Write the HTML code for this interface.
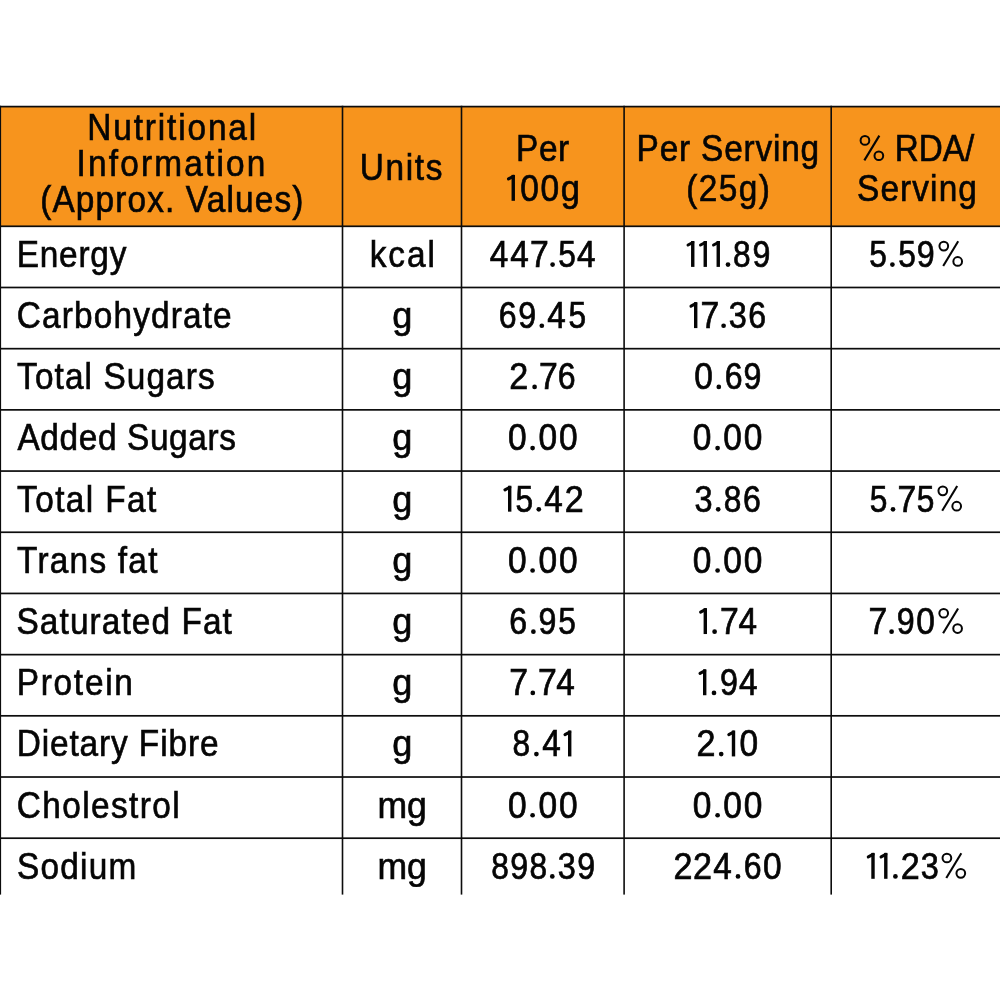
<!DOCTYPE html>
<html><head><meta charset="utf-8"><style>
html,body{margin:0;padding:0;background:#fff;width:1000px;height:1000px;overflow:hidden}
svg{display:block;will-change:transform}
text{font-family:"Liberation Sans",sans-serif;font-size:36.3px;fill:#050505;stroke:#050505;stroke-width:0.65px;}
</style></head><body>
<svg width="1000" height="1000" viewBox="0 0 1000 1000">
<rect x="0" y="106.6" width="1000" height="119.70" fill="#F7941D"/>
<rect x="0" y="105.75" width="1000" height="1.7" fill="#0c0c0c"/>
<rect x="0" y="225.45" width="1000" height="1.7" fill="#0c0c0c"/>
<rect x="0" y="286.64" width="1000" height="1.7" fill="#0c0c0c"/>
<rect x="0" y="347.83" width="1000" height="1.7" fill="#0c0c0c"/>
<rect x="0" y="409.02" width="1000" height="1.7" fill="#0c0c0c"/>
<rect x="0" y="470.21" width="1000" height="1.7" fill="#0c0c0c"/>
<rect x="0" y="531.40" width="1000" height="1.7" fill="#0c0c0c"/>
<rect x="0" y="592.59" width="1000" height="1.7" fill="#0c0c0c"/>
<rect x="0" y="653.78" width="1000" height="1.7" fill="#0c0c0c"/>
<rect x="0" y="714.97" width="1000" height="1.7" fill="#0c0c0c"/>
<rect x="0" y="776.16" width="1000" height="1.7" fill="#0c0c0c"/>
<rect x="0" y="837.35" width="1000" height="1.7" fill="#0c0c0c"/>
<rect x="0" y="105.75" width="1.1" height="788.85" fill="#0c0c0c"/>
<rect x="341.70" y="105.75" width="1.6" height="788.85" fill="#0c0c0c"/>
<rect x="460.70" y="105.75" width="1.6" height="788.85" fill="#0c0c0c"/>
<rect x="623.30" y="105.75" width="1.6" height="788.85" fill="#0c0c0c"/>
<rect x="830.40" y="105.75" width="1.6" height="788.85" fill="#0c0c0c"/>
<text transform="translate(171.72 140.40) scale(0.92 1)" text-anchor="middle" textLength="183.72" lengthAdjust="spacing">Nutritional</text>
<text transform="translate(170.98 176.40) scale(0.92 1)" text-anchor="middle" textLength="205.24" lengthAdjust="spacing">Information</text>
<text transform="translate(171.76 212.40) scale(0.92 1)" text-anchor="middle" textLength="286.04" lengthAdjust="spacing">(Approx. Values)</text>
<text transform="translate(401.03 180.00) scale(0.92 1)" text-anchor="middle" textLength="89.81" lengthAdjust="spacing">Units</text>
<text transform="translate(542.67 161.20) scale(0.92 1)" text-anchor="middle" textLength="57.75" lengthAdjust="spacing">Per</text>
<text transform="translate(727.84 161.20) scale(0.92 1)" text-anchor="middle" textLength="198.36" lengthAdjust="spacing">Per Serving</text>
<text transform="translate(728.05 200.80) scale(0.92 1)" text-anchor="middle" textLength="90.91" lengthAdjust="spacing">(25g)</text>
<text transform="translate(934.53 161.20) scale(0.92 1)" text-anchor="middle" textLength="86.32" lengthAdjust="spacingAndGlyphs">RDA/</text>
<text transform="translate(916.95 200.80) scale(0.92 1)" text-anchor="middle" textLength="130.26" lengthAdjust="spacing">Serving</text>
<text transform="translate(16.73 266.90) scale(0.92 1)" text-anchor="start" textLength="119.20" lengthAdjust="spacing">Energy</text>
<text transform="translate(402.23 266.90) scale(0.92 1)" text-anchor="middle" textLength="70.82" lengthAdjust="spacing">kcal</text>
<text transform="translate(16.80 328.09) scale(0.92 1)" text-anchor="start" textLength="233.56" lengthAdjust="spacing">Carbohydrate</text>
<text transform="translate(402.40 328.09) scale(0.92 1)" text-anchor="middle" textLength="21.86" lengthAdjust="spacingAndGlyphs">g</text>
<text transform="translate(17.12 389.28) scale(0.92 1)" text-anchor="start" textLength="214.74" lengthAdjust="spacing">Total Sugars</text>
<text transform="translate(402.40 389.28) scale(0.92 1)" text-anchor="middle" textLength="21.86" lengthAdjust="spacingAndGlyphs">g</text>
<text transform="translate(17.41 450.47) scale(0.92 1)" text-anchor="start" textLength="237.55" lengthAdjust="spacing">Added Sugars</text>
<text transform="translate(402.40 450.47) scale(0.92 1)" text-anchor="middle" textLength="21.86" lengthAdjust="spacingAndGlyphs">g</text>
<text transform="translate(17.12 511.66) scale(0.92 1)" text-anchor="start" textLength="151.31" lengthAdjust="spacing">Total Fat</text>
<text transform="translate(402.40 511.66) scale(0.92 1)" text-anchor="middle" textLength="21.86" lengthAdjust="spacingAndGlyphs">g</text>
<text transform="translate(17.12 572.85) scale(0.92 1)" text-anchor="start" textLength="152.50" lengthAdjust="spacing">Trans fat</text>
<text transform="translate(402.40 572.85) scale(0.92 1)" text-anchor="middle" textLength="21.86" lengthAdjust="spacingAndGlyphs">g</text>
<text transform="translate(16.49 634.04) scale(0.92 1)" text-anchor="start" textLength="234.14" lengthAdjust="spacing">Saturated Fat</text>
<text transform="translate(402.40 634.04) scale(0.92 1)" text-anchor="middle" textLength="21.86" lengthAdjust="spacingAndGlyphs">g</text>
<text transform="translate(16.66 695.23) scale(0.92 1)" text-anchor="start" textLength="126.38" lengthAdjust="spacing">Protein</text>
<text transform="translate(402.40 695.23) scale(0.92 1)" text-anchor="middle" textLength="21.86" lengthAdjust="spacingAndGlyphs">g</text>
<text transform="translate(16.65 756.42) scale(0.92 1)" text-anchor="start" textLength="219.44" lengthAdjust="spacing">Dietary Fibre</text>
<text transform="translate(402.40 756.42) scale(0.92 1)" text-anchor="middle" textLength="21.86" lengthAdjust="spacingAndGlyphs">g</text>
<text transform="translate(16.80 817.61) scale(0.92 1)" text-anchor="start" textLength="176.94" lengthAdjust="spacing">Cholestrol</text>
<text transform="translate(402.10 817.61) scale(0.92 1)" text-anchor="middle" textLength="53.71" lengthAdjust="spacingAndGlyphs">mg</text>
<text transform="translate(16.88 878.80) scale(0.92 1)" text-anchor="start" textLength="129.88" lengthAdjust="spacing">Sodium</text>
<text transform="translate(402.10 878.80) scale(0.92 1)" text-anchor="middle" textLength="53.71" lengthAdjust="spacingAndGlyphs">mg</text>
<g class="one" fill="#050505" stroke="#050505"><rect x="511.55" y="174.90" width="3.4" height="25.9" stroke="none"/><line x1="513.25" y1="176.40" x2="508.55" y2="178.90" stroke-width="3.1" stroke-linecap="round"/></g>
<text class="gl" transform="translate(529.50 200.80) scale(0.922 1)" text-anchor="middle" style="stroke-width:0.7px">0</text>
<text class="gl" transform="translate(549.75 200.80) scale(0.922 1)" text-anchor="middle" style="stroke-width:0.7px">0</text>
<text class="gl" transform="translate(570.39 200.80) scale(0.95 1)" text-anchor="middle" style="stroke-width:0.7px">g</text>
<text class="gl" transform="translate(498.91 266.90) scale(0.918 1)" text-anchor="middle" style="stroke-width:0.7px">4</text>
<text class="gl" transform="translate(519.61 266.90) scale(0.918 1)" text-anchor="middle" style="stroke-width:0.7px">4</text>
<text class="gl" transform="translate(539.28 266.90) scale(0.93 1)" text-anchor="middle" style="stroke-width:0.7px">7</text>
<circle class="dot" cx="552.60" cy="264.55" r="2.35" fill="#050505"/>
<text class="gl" transform="translate(567.03 266.90) scale(0.874 1)" text-anchor="middle" style="stroke-width:0.7px">5</text>
<text class="gl" transform="translate(586.31 266.90) scale(0.918 1)" text-anchor="middle" style="stroke-width:0.7px">4</text>
<g class="one" fill="#050505" stroke="#050505"><rect x="691.05" y="241.00" width="3.4" height="25.9" stroke="none"/><line x1="692.75" y1="242.50" x2="688.05" y2="245.00" stroke-width="3.1" stroke-linecap="round"/></g>
<g class="one" fill="#050505" stroke="#050505"><rect x="703.55" y="241.00" width="3.4" height="25.9" stroke="none"/><line x1="705.25" y1="242.50" x2="700.55" y2="245.00" stroke-width="3.1" stroke-linecap="round"/></g>
<g class="one" fill="#050505" stroke="#050505"><rect x="716.55" y="241.00" width="3.4" height="25.9" stroke="none"/><line x1="718.25" y1="242.50" x2="713.55" y2="245.00" stroke-width="3.1" stroke-linecap="round"/></g>
<circle class="dot" cx="728.00" cy="264.55" r="2.35" fill="#050505"/>
<text class="gl" transform="translate(741.75 266.90) scale(0.872 1)" text-anchor="middle" style="stroke-width:0.7px">8</text>
<text class="gl" transform="translate(761.51 266.90) scale(0.886 1)" text-anchor="middle" style="stroke-width:0.7px">9</text>
<text class="gl" transform="translate(878.03 266.90) scale(0.874 1)" text-anchor="middle" style="stroke-width:0.7px">5</text>
<circle class="dot" cx="892.40" cy="264.55" r="2.35" fill="#050505"/>
<text class="gl" transform="translate(907.03 266.90) scale(0.874 1)" text-anchor="middle" style="stroke-width:0.7px">5</text>
<text class="gl" transform="translate(925.61 266.90) scale(0.886 1)" text-anchor="middle" style="stroke-width:0.7px">9</text>
<text class="gl" transform="translate(507.79 328.09) scale(0.884 1)" text-anchor="middle" style="stroke-width:0.7px">6</text>
<text class="gl" transform="translate(527.11 328.09) scale(0.886 1)" text-anchor="middle" style="stroke-width:0.7px">9</text>
<circle class="dot" cx="541.80" cy="325.74" r="2.35" fill="#050505"/>
<text class="gl" transform="translate(556.61 328.09) scale(0.918 1)" text-anchor="middle" style="stroke-width:0.7px">4</text>
<text class="gl" transform="translate(577.23 328.09) scale(0.874 1)" text-anchor="middle" style="stroke-width:0.7px">5</text>
<g class="one" fill="#050505" stroke="#050505"><rect x="694.00" y="302.19" width="3.4" height="25.9" stroke="none"/><line x1="695.70" y1="303.69" x2="691.00" y2="306.19" stroke-width="3.1" stroke-linecap="round"/></g>
<text class="gl" transform="translate(709.78 328.09) scale(0.93 1)" text-anchor="middle" style="stroke-width:0.7px">7</text>
<circle class="dot" cx="723.60" cy="325.74" r="2.35" fill="#050505"/>
<text class="gl" transform="translate(737.80 328.09) scale(0.895 1)" text-anchor="middle" style="stroke-width:0.7px">3</text>
<text class="gl" transform="translate(757.09 328.09) scale(0.884 1)" text-anchor="middle" style="stroke-width:0.7px">6</text>
<text class="gl" transform="translate(518.70 389.28) scale(0.94 1)" text-anchor="middle" style="stroke-width:0.7px">2</text>
<circle class="dot" cx="534.60" cy="386.93" r="2.35" fill="#050505"/>
<text class="gl" transform="translate(548.38 389.28) scale(0.93 1)" text-anchor="middle" style="stroke-width:0.7px">7</text>
<text class="gl" transform="translate(566.59 389.28) scale(0.884 1)" text-anchor="middle" style="stroke-width:0.7px">6</text>
<text class="gl" transform="translate(703.50 389.28) scale(0.922 1)" text-anchor="middle" style="stroke-width:0.7px">0</text>
<circle class="dot" cx="718.80" cy="386.93" r="2.35" fill="#050505"/>
<text class="gl" transform="translate(733.69 389.28) scale(0.884 1)" text-anchor="middle" style="stroke-width:0.7px">6</text>
<text class="gl" transform="translate(752.41 389.28) scale(0.886 1)" text-anchor="middle" style="stroke-width:0.7px">9</text>
<text class="gl" transform="translate(517.25 450.47) scale(0.922 1)" text-anchor="middle" style="stroke-width:0.7px">0</text>
<circle class="dot" cx="532.60" cy="448.12" r="2.35" fill="#050505"/>
<text class="gl" transform="translate(547.85 450.47) scale(0.922 1)" text-anchor="middle" style="stroke-width:0.7px">0</text>
<text class="gl" transform="translate(568.20 450.47) scale(0.922 1)" text-anchor="middle" style="stroke-width:0.7px">0</text>
<text class="gl" transform="translate(702.00 450.47) scale(0.922 1)" text-anchor="middle" style="stroke-width:0.7px">0</text>
<circle class="dot" cx="717.60" cy="448.12" r="2.35" fill="#050505"/>
<text class="gl" transform="translate(732.60 450.47) scale(0.922 1)" text-anchor="middle" style="stroke-width:0.7px">0</text>
<text class="gl" transform="translate(753.00 450.47) scale(0.922 1)" text-anchor="middle" style="stroke-width:0.7px">0</text>
<g class="one" fill="#050505" stroke="#050505"><rect x="508.00" y="485.76" width="3.4" height="25.9" stroke="none"/><line x1="509.70" y1="487.26" x2="505.00" y2="489.76" stroke-width="3.1" stroke-linecap="round"/></g>
<text class="gl" transform="translate(524.43 511.66) scale(0.874 1)" text-anchor="middle" style="stroke-width:0.7px">5</text>
<circle class="dot" cx="538.80" cy="509.31" r="2.35" fill="#050505"/>
<text class="gl" transform="translate(553.61 511.66) scale(0.918 1)" text-anchor="middle" style="stroke-width:0.7px">4</text>
<text class="gl" transform="translate(574.20 511.66) scale(0.94 1)" text-anchor="middle" style="stroke-width:0.7px">2</text>
<text class="gl" transform="translate(703.60 511.66) scale(0.895 1)" text-anchor="middle" style="stroke-width:0.7px">3</text>
<circle class="dot" cx="718.20" cy="509.31" r="2.35" fill="#050505"/>
<text class="gl" transform="translate(732.60 511.66) scale(0.872 1)" text-anchor="middle" style="stroke-width:0.7px">8</text>
<text class="gl" transform="translate(751.99 511.66) scale(0.884 1)" text-anchor="middle" style="stroke-width:0.7px">6</text>
<text class="gl" transform="translate(878.63 511.66) scale(0.874 1)" text-anchor="middle" style="stroke-width:0.7px">5</text>
<circle class="dot" cx="893.00" cy="509.31" r="2.35" fill="#050505"/>
<text class="gl" transform="translate(906.98 511.66) scale(0.93 1)" text-anchor="middle" style="stroke-width:0.7px">7</text>
<text class="gl" transform="translate(925.63 511.66) scale(0.874 1)" text-anchor="middle" style="stroke-width:0.7px">5</text>
<text class="gl" transform="translate(517.25 572.85) scale(0.922 1)" text-anchor="middle" style="stroke-width:0.7px">0</text>
<circle class="dot" cx="532.60" cy="570.50" r="2.35" fill="#050505"/>
<text class="gl" transform="translate(547.85 572.85) scale(0.922 1)" text-anchor="middle" style="stroke-width:0.7px">0</text>
<text class="gl" transform="translate(568.20 572.85) scale(0.922 1)" text-anchor="middle" style="stroke-width:0.7px">0</text>
<text class="gl" transform="translate(702.00 572.85) scale(0.922 1)" text-anchor="middle" style="stroke-width:0.7px">0</text>
<circle class="dot" cx="717.60" cy="570.50" r="2.35" fill="#050505"/>
<text class="gl" transform="translate(732.60 572.85) scale(0.922 1)" text-anchor="middle" style="stroke-width:0.7px">0</text>
<text class="gl" transform="translate(753.00 572.85) scale(0.922 1)" text-anchor="middle" style="stroke-width:0.7px">0</text>
<text class="gl" transform="translate(518.29 634.04) scale(0.884 1)" text-anchor="middle" style="stroke-width:0.7px">6</text>
<circle class="dot" cx="533.40" cy="631.69" r="2.35" fill="#050505"/>
<text class="gl" transform="translate(547.51 634.04) scale(0.886 1)" text-anchor="middle" style="stroke-width:0.7px">9</text>
<text class="gl" transform="translate(567.03 634.04) scale(0.874 1)" text-anchor="middle" style="stroke-width:0.7px">5</text>
<g class="one" fill="#050505" stroke="#050505"><rect x="703.60" y="608.14" width="3.4" height="25.9" stroke="none"/><line x1="705.30" y1="609.64" x2="700.60" y2="612.14" stroke-width="3.1" stroke-linecap="round"/></g>
<circle class="dot" cx="714.60" cy="631.69" r="2.35" fill="#050505"/>
<text class="gl" transform="translate(729.28 634.04) scale(0.93 1)" text-anchor="middle" style="stroke-width:0.7px">7</text>
<text class="gl" transform="translate(747.71 634.04) scale(0.918 1)" text-anchor="middle" style="stroke-width:0.7px">4</text>
<text class="gl" transform="translate(877.98 634.04) scale(0.93 1)" text-anchor="middle" style="stroke-width:0.7px">7</text>
<circle class="dot" cx="891.60" cy="631.69" r="2.35" fill="#050505"/>
<text class="gl" transform="translate(905.81 634.04) scale(0.886 1)" text-anchor="middle" style="stroke-width:0.7px">9</text>
<text class="gl" transform="translate(925.60 634.04) scale(0.922 1)" text-anchor="middle" style="stroke-width:0.7px">0</text>
<text class="gl" transform="translate(518.68 695.23) scale(0.93 1)" text-anchor="middle" style="stroke-width:0.7px">7</text>
<circle class="dot" cx="532.80" cy="692.88" r="2.35" fill="#050505"/>
<text class="gl" transform="translate(547.48 695.23) scale(0.93 1)" text-anchor="middle" style="stroke-width:0.7px">7</text>
<text class="gl" transform="translate(565.61 695.23) scale(0.918 1)" text-anchor="middle" style="stroke-width:0.7px">4</text>
<g class="one" fill="#050505" stroke="#050505"><rect x="703.00" y="669.33" width="3.4" height="25.9" stroke="none"/><line x1="704.70" y1="670.83" x2="700.00" y2="673.33" stroke-width="3.1" stroke-linecap="round"/></g>
<circle class="dot" cx="714.00" cy="692.88" r="2.35" fill="#050505"/>
<text class="gl" transform="translate(729.01 695.23) scale(0.886 1)" text-anchor="middle" style="stroke-width:0.7px">9</text>
<text class="gl" transform="translate(748.31 695.23) scale(0.918 1)" text-anchor="middle" style="stroke-width:0.7px">4</text>
<text class="gl" transform="translate(521.40 756.42) scale(0.872 1)" text-anchor="middle" style="stroke-width:0.7px">8</text>
<circle class="dot" cx="536.40" cy="754.07" r="2.35" fill="#050505"/>
<text class="gl" transform="translate(551.51 756.42) scale(0.918 1)" text-anchor="middle" style="stroke-width:0.7px">4</text>
<g class="one" fill="#050505" stroke="#050505"><rect x="568.00" y="730.52" width="3.4" height="25.9" stroke="none"/><line x1="569.70" y1="732.02" x2="565.00" y2="734.52" stroke-width="3.1" stroke-linecap="round"/></g>
<text class="gl" transform="translate(705.90 756.42) scale(0.94 1)" text-anchor="middle" style="stroke-width:0.7px">2</text>
<circle class="dot" cx="721.20" cy="754.07" r="2.35" fill="#050505"/>
<g class="one" fill="#050505" stroke="#050505"><rect x="731.80" y="730.52" width="3.4" height="25.9" stroke="none"/><line x1="733.50" y1="732.02" x2="728.80" y2="734.52" stroke-width="3.1" stroke-linecap="round"/></g>
<text class="gl" transform="translate(748.80 756.42) scale(0.922 1)" text-anchor="middle" style="stroke-width:0.7px">0</text>
<text class="gl" transform="translate(517.25 817.61) scale(0.922 1)" text-anchor="middle" style="stroke-width:0.7px">0</text>
<circle class="dot" cx="532.60" cy="815.26" r="2.35" fill="#050505"/>
<text class="gl" transform="translate(547.85 817.61) scale(0.922 1)" text-anchor="middle" style="stroke-width:0.7px">0</text>
<text class="gl" transform="translate(568.20 817.61) scale(0.922 1)" text-anchor="middle" style="stroke-width:0.7px">0</text>
<text class="gl" transform="translate(702.00 817.61) scale(0.922 1)" text-anchor="middle" style="stroke-width:0.7px">0</text>
<circle class="dot" cx="717.60" cy="815.26" r="2.35" fill="#050505"/>
<text class="gl" transform="translate(732.60 817.61) scale(0.922 1)" text-anchor="middle" style="stroke-width:0.7px">0</text>
<text class="gl" transform="translate(753.00 817.61) scale(0.922 1)" text-anchor="middle" style="stroke-width:0.7px">0</text>
<text class="gl" transform="translate(500.00 878.80) scale(0.872 1)" text-anchor="middle" style="stroke-width:0.7px">8</text>
<text class="gl" transform="translate(519.11 878.80) scale(0.886 1)" text-anchor="middle" style="stroke-width:0.7px">9</text>
<text class="gl" transform="translate(538.40 878.80) scale(0.872 1)" text-anchor="middle" style="stroke-width:0.7px">8</text>
<circle class="dot" cx="552.30" cy="876.45" r="2.35" fill="#050505"/>
<text class="gl" transform="translate(566.70 878.80) scale(0.895 1)" text-anchor="middle" style="stroke-width:0.7px">3</text>
<text class="gl" transform="translate(586.21 878.80) scale(0.886 1)" text-anchor="middle" style="stroke-width:0.7px">9</text>
<text class="gl" transform="translate(682.90 878.80) scale(0.94 1)" text-anchor="middle" style="stroke-width:0.7px">2</text>
<text class="gl" transform="translate(702.50 878.80) scale(0.94 1)" text-anchor="middle" style="stroke-width:0.7px">2</text>
<text class="gl" transform="translate(722.51 878.80) scale(0.918 1)" text-anchor="middle" style="stroke-width:0.7px">4</text>
<circle class="dot" cx="738.00" cy="876.45" r="2.35" fill="#050505"/>
<text class="gl" transform="translate(752.59 878.80) scale(0.884 1)" text-anchor="middle" style="stroke-width:0.7px">6</text>
<text class="gl" transform="translate(772.30 878.80) scale(0.922 1)" text-anchor="middle" style="stroke-width:0.7px">0</text>
<g class="one" fill="#050505" stroke="#050505"><rect x="871.30" y="852.90" width="3.4" height="25.9" stroke="none"/><line x1="873.00" y1="854.40" x2="868.30" y2="856.90" stroke-width="3.1" stroke-linecap="round"/></g>
<g class="one" fill="#050505" stroke="#050505"><rect x="884.10" y="852.90" width="3.4" height="25.9" stroke="none"/><line x1="885.80" y1="854.40" x2="881.10" y2="856.90" stroke-width="3.1" stroke-linecap="round"/></g>
<circle class="dot" cx="895.40" cy="876.45" r="2.35" fill="#050505"/>
<text class="gl" transform="translate(910.20 878.80) scale(0.94 1)" text-anchor="middle" style="stroke-width:0.7px">2</text>
<text class="gl" transform="translate(929.70 878.80) scale(0.895 1)" text-anchor="middle" style="stroke-width:0.7px">3</text>
<g fill="none" stroke="#050505"><circle cx="864.95" cy="140.40" r="4.35" stroke-width="2"/><circle cx="878.85" cy="155.75" r="4.35" stroke-width="2"/><line x1="879.35" y1="135.60" x2="864.35" y2="160.35" stroke-width="2.1"/></g>
<g fill="none" stroke="#050505"><circle cx="943.80" cy="246.10" r="4.35" stroke-width="2"/><circle cx="957.70" cy="261.45" r="4.35" stroke-width="2"/><line x1="958.20" y1="241.30" x2="943.20" y2="266.05" stroke-width="2.1"/></g>
<g fill="none" stroke="#050505"><circle cx="942.80" cy="490.86" r="4.35" stroke-width="2"/><circle cx="956.70" cy="506.21" r="4.35" stroke-width="2"/><line x1="957.20" y1="486.06" x2="942.20" y2="510.81" stroke-width="2.1"/></g>
<g fill="none" stroke="#050505"><circle cx="943.70" cy="613.24" r="4.35" stroke-width="2"/><circle cx="957.60" cy="628.59" r="4.35" stroke-width="2"/><line x1="958.10" y1="608.44" x2="943.10" y2="633.19" stroke-width="2.1"/></g>
<g fill="none" stroke="#050505"><circle cx="946.90" cy="858.00" r="4.35" stroke-width="2"/><circle cx="960.80" cy="873.35" r="4.35" stroke-width="2"/><line x1="961.30" y1="853.20" x2="946.30" y2="877.95" stroke-width="2.1"/></g>
</svg>
</body></html>
